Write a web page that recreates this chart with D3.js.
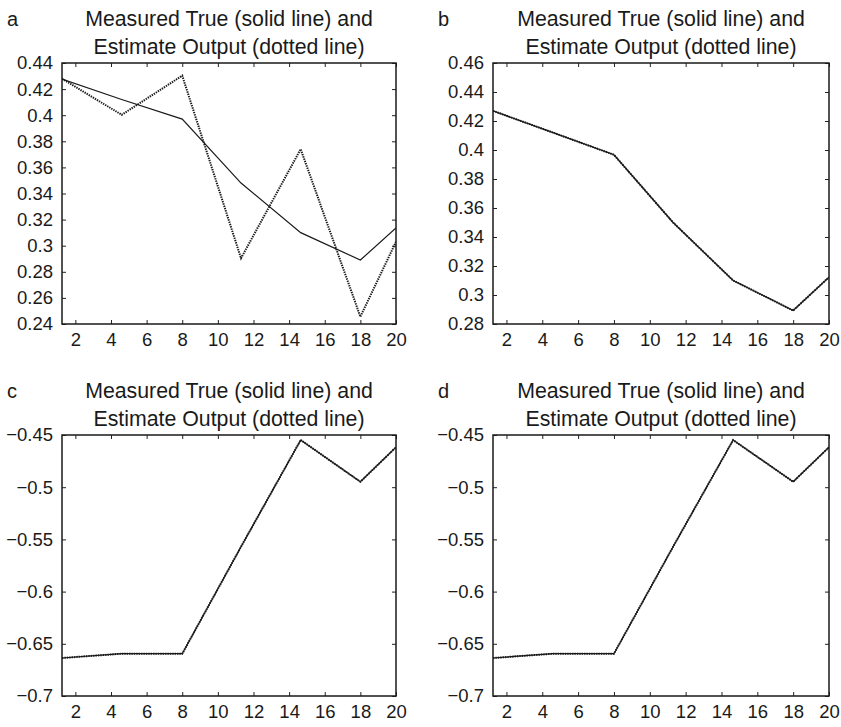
<!DOCTYPE html>
<html>
<head>
<meta charset="utf-8">
<script src="https://cdn.jsdelivr.net/npm/d3@7"></script>
<style>
  body { margin: 0; background: #fff; }
  text { font-family: "Liberation Sans", Arial, Helvetica, sans-serif; fill: #1a1a1a; }
</style>
</head>
<body>
<div id="chart"></div>
<script>
//***************** data *******************/
var samples = [1.25, 4.6, 8, 11.3, 14.65, 18, 20];
var xTicks = [2, 4, 6, 8, 10, 12, 14, 16, 18, 20];

var trueA = [0.4277, 0.412, 0.397, 0.348, 0.310, 0.289, 0.3136];
var estA  = [0.428, 0.4003, 0.4303, 0.2904, 0.374, 0.2456, 0.303];
var trueB = [0.427, 0.412, 0.3967, 0.350, 0.310, 0.2893, 0.3123];
var estB  = [0.427, 0.412, 0.3967, 0.350, 0.310, 0.2893, 0.3123];
var trueC = [-0.6636, -0.6595, -0.6595, -0.557, -0.4548, -0.4948, -0.4617];
var estC  = [-0.6636, -0.6595, -0.6595, -0.557, -0.4548, -0.4948, -0.4617];
var trueD = [-0.6636, -0.6595, -0.6595, -0.557, -0.4548, -0.4948, -0.4617];
var estD  = [-0.6636, -0.6595, -0.6595, -0.557, -0.4548, -0.4948, -0.4617];

var ticksA = [0.24, 0.26, 0.28, 0.3, 0.32, 0.34, 0.36, 0.38, 0.4, 0.42, 0.44];
var ticksB = [0.28, 0.3, 0.32, 0.34, 0.36, 0.38, 0.4, 0.42, 0.44, 0.46];
var ticksCD = [-0.7, -0.65, -0.6, -0.55, -0.5, -0.45];

var titleLines = ["Measured True (solid line) and", "Estimate Output (dotted line)"];

//************* layout ***************/
var W = 841, H = 727;
var panels = [
  {label: "a", left: 62, top: 63, right: 396, bottom: 324, yDomain: [0.24, 0.44], yTicks: ticksA, solid: trueA, dotted: estA},
  {label: "b", left: 493, top: 63, right: 829, bottom: 324, yDomain: [0.28, 0.46], yTicks: ticksB, solid: trueB, dotted: estB},
  {label: "c", left: 62, top: 435, right: 396, bottom: 696, yDomain: [-0.7, -0.45], yTicks: ticksCD, solid: trueC, dotted: estC},
  {label: "d", left: 493, top: 435, right: 829, bottom: 696, yDomain: [-0.7, -0.45], yTicks: ticksCD, solid: trueD, dotted: estD}
];

var svg = d3.select("#chart")
  .append("svg")
    .attr("width", W)
    .attr("height", H);

// matlab style numbers: trim zeros, real minus sign
function fmt(d) {
  return String(+d.toFixed(2)).replace("-", "\u2212");
}

panels.forEach(function(p, i) {
  var w = p.right - p.left, h = p.bottom - p.top;
  var g = svg.append("g").attr("transform", "translate(" + p.left + "," + p.top + ")");

  var x = d3.scaleLinear().domain([1.25, 20]).range([0, w]);
  var y = d3.scaleLinear().domain(p.yDomain).range([h, 0]);

  // axes, ticks pointing inward
  g.append("g").attr("transform", "translate(0," + h + ")")
    .call(d3.axisBottom(x).tickValues(xTicks).tickSizeInner(-4).tickSizeOuter(0).tickPadding(9).tickFormat(d3.format("d")));
  g.append("g")
    .call(d3.axisTop(x).tickValues(xTicks).tickSizeInner(-4).tickSizeOuter(0).tickFormat(""));
  g.append("g")
    .call(d3.axisLeft(y).tickValues(p.yTicks).tickSizeInner(-4).tickSizeOuter(0).tickPadding(9).tickFormat(fmt));
  g.append("g").attr("transform", "translate(" + w + ",0)")
    .call(d3.axisRight(y).tickValues(p.yTicks).tickSizeInner(-4).tickSizeOuter(0).tickFormat(""));

  g.selectAll(".domain").remove();
  g.selectAll(".tick line").attr("stroke", "#222");
  g.selectAll(".tick text").attr("font-size", "18.5px").attr("fill", "#1a1a1a");

  // clip
  g.append("clipPath").attr("id", "clip" + i)
    .append("rect").attr("width", w).attr("height", h);

  var line = d3.line()
    .x(function(d, k) { return x(samples[k]); })
    .y(function(d) { return y(d); });

  g.append("path")
    .datum(p.solid)
    .attr("clip-path", "url(#clip" + i + ")")
    .attr("fill", "none")
    .attr("stroke", "#1a1a1a")
    .attr("stroke-width", 1.2)
    .attr("d", line);

  g.append("path")
    .datum(p.dotted)
    .attr("clip-path", "url(#clip" + i + ")")
    .attr("fill", "none")
    .attr("stroke", "#1a1a1a")
    .attr("stroke-width", 2)
    .attr("stroke-dasharray", "1.4,1")
    .attr("d", line);

  // box
  g.append("rect")
    .attr("width", w).attr("height", h)
    .attr("fill", "none")
    .attr("stroke", "#1a1a1a")
    .attr("stroke-width", 1.5);

  // title and panel letter
  g.append("text")
    .attr("x", w / 2).attr("y", -37)
    .attr("text-anchor", "middle")
    .attr("font-size", "21.3px")
    .text(titleLines[0]);
  g.append("text")
    .attr("x", w / 2).attr("y", -9.5)
    .attr("text-anchor", "middle")
    .attr("font-size", "21.3px")
    .text(titleLines[1]);
  g.append("text")
    .attr("x", (i % 2 == 0 ? 7 : 438) - p.left).attr("y", -37)
    .attr("font-size", "20px")
    .text(p.label);
});
</script>
</body>
</html>
